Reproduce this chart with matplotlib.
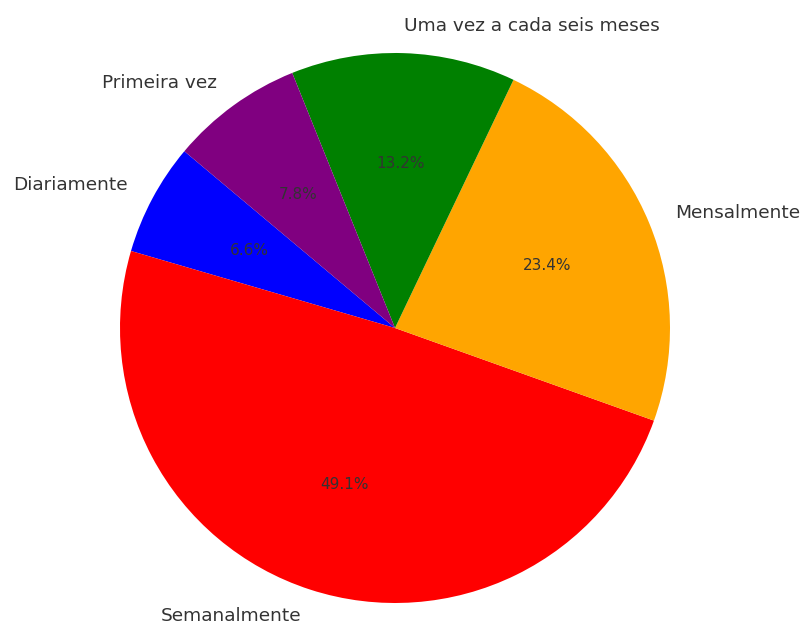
import matplotlib.pyplot as plt

# Frequência de visitas
categorias = ['Diariamente', 'Semanalmente', 'Mensalmente',
              'Uma vez a cada seis meses', 'Primeira vez']
percentagens = [6.6, 49.1, 23.4, 13.2, 7.8]
cores = ['blue', 'red', 'orange', 'green', 'purple']

fig = plt.figure(figsize=(8, 6.25), dpi=100)
ax = fig.add_axes([0, 0, 1, 1])

ax.pie(percentagens, labels=categorias, colors=cores, autopct='%1.1f%%',
       startangle=140,
       textprops={'color': '#333333', 'fontsize': 13.3})
for t in ax.texts:
    if t.get_text().endswith('%'):
        t.set_fontsize(11)

# raio de 275 px, centro em (395, 328) a partir do canto superior esquerdo
r = 275.0
ax.set_aspect('auto')
ax.set_xlim(-395 / r, (800 - 395) / r)
ax.set_ylim(-(625 - 328) / r, 328 / r)
ax.axis('off')

fig.savefig('out.png', dpi=100)
